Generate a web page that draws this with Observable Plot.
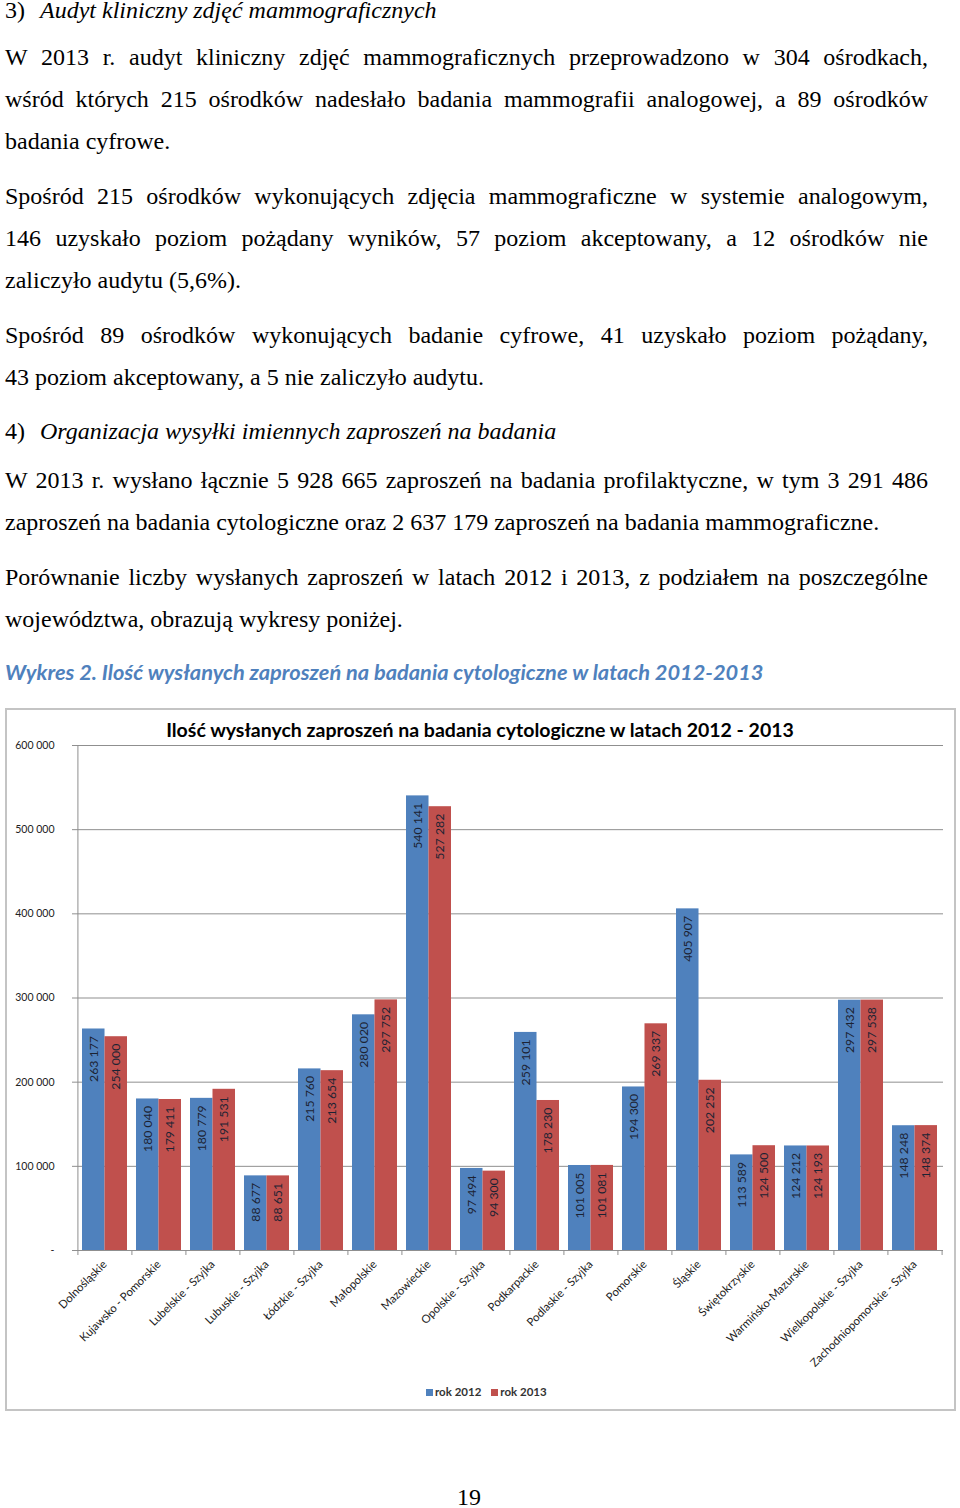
<!DOCTYPE html>
<html>
<head>
<meta charset="utf-8">
<script src="https://cdn.jsdelivr.net/npm/d3@7"></script>
<script src="https://cdn.jsdelivr.net/npm/@observablehq/plot@0.6"></script>
<style>
  html, body { margin: 0; padding: 0; background: #fff; }
  body { width: 960px; height: 1508px; position: relative; overflow: hidden; }
  .t { position: absolute; left: 5px; width: 923px; font-family: "Liberation Serif", "Times New Roman", serif;
       font-size: 24px; line-height: 30px; color: #000; }
  .j { text-align: justify; text-align-last: justify; }
  .i { font-style: italic; }
  #caption { position: absolute; left: 5px; top: 657px; font-family: Lato, sans-serif; font-weight: bold;
             font-style: italic; font-size: 21.8px; line-height: 30px; color: #4f81bd; white-space: nowrap; }
  #box { position: absolute; left: 5px; top: 708px; width: 951px; height: 703px; box-sizing: border-box;
         border: 2px solid #c4c4c4; }
  #title { position: absolute; left: 0; top: 718px; width: 960px; text-align: center; font-family: Lato, sans-serif;
           font-weight: bold; font-size: 19.5px; line-height: 24px; color: #000; white-space: nowrap; }
  #chart { position: absolute; left: 0; top: 708px; }
  #legend { position: absolute; left: 426px; top: 1385px; font-family: Lato, sans-serif;
            font-weight: bold; font-size: 11.5px; line-height: 14px; color: #333; white-space: nowrap; }
  #legend .sw { display: inline-block; width: 7px; height: 7px; margin-right: 2px; vertical-align: 0px; }
  #legend .item { margin-right: 10px; }
  #page { position: absolute; left: 457px; top: 1482px; font-family: "Liberation Serif", serif; font-size: 24px; line-height: 30px; }
</style>
</head>
<body>
<div class="t" style="top:-5px"><span>3)</span><span class="i" style="position:absolute;left:35px">Audyt kliniczny zdjęć mammograficznych</span></div>
<div class="t j" style="top:42px">W 2013 r. audyt kliniczny zdjęć mammograficznych przeprowadzono w 304 ośrodkach,</div>
<div class="t j" style="top:84px">wśród których 215 ośrodków nadesłało badania mammografii analogowej, a 89 ośrodków</div>
<div class="t" style="top:126px">badania cyfrowe.</div>

<div class="t j" style="top:181px">Spośród 215 ośrodków wykonujących zdjęcia mammograficzne w systemie analogowym,</div>
<div class="t j" style="top:223px">146 uzyskało poziom pożądany wyników, 57 poziom akceptowany, a 12 ośrodków nie</div>
<div class="t" style="top:265px">zaliczyło audytu (5,6%).</div>

<div class="t j" style="top:320px">Spośród 89 ośrodków wykonujących badanie cyfrowe, 41 uzyskało poziom pożądany,</div>
<div class="t" style="top:362px">43 poziom akceptowany, a 5 nie zaliczyło audytu.</div>

<div class="t" style="top:416px"><span>4)</span><span class="i" style="position:absolute;left:35px">Organizacja wysyłki imiennych zaproszeń na badania</span></div>

<div class="t j" style="top:465px">W 2013 r. wysłano łącznie 5 928 665 zaproszeń na badania profilaktyczne, w tym 3 291 486</div>
<div class="t" style="top:507px">zaproszeń na badania cytologiczne oraz 2 637 179 zaproszeń na badania mammograficzne.</div>

<div class="t j" style="top:562px">Porównanie liczby wysłanych zaproszeń w latach 2012 i 2013, z podziałem na poszczególne</div>
<div class="t" style="top:604px">województwa, obrazują wykresy poniżej.</div>

<div id="caption">Wykres 2. Ilość wysłanych zaproszeń na badania cytologiczne w latach 2012-2013</div>

<div id="box"></div>
<div id="chart"></div>
<div id="title">Ilość wysłanych zaproszeń na badania cytologiczne w latach 2012 - 2013</div>
<div id="legend"></div>
<div id="page">19</div>

<script>
// ---- data ----
const regions = [
  "Dolnośląskie", "Kujawsko - Pomorskie", "Lubelskie - Szyjka", "Lubuskie - Szyjka",
  "Łódzkie - Szyjka", "Małopolskie", "Mazowieckie", "Opolskie - Szyjka",
  "Podkarpackie", "Podlaskie - Szyjka", "Pomorskie", "Śląskie",
  "Świętokrzyskie", "Warmińsko-Mazurskie", "Wielkopolskie - Szyjka", "Zachodniopomorskie - Szyjka"
];
const values2012 = [263177, 180040, 180779, 88677, 215760, 280020, 540141, 97494,
                    259101, 101005, 194300, 405907, 113589, 124212, 297432, 148248];
const values2013 = [254000, 179411, 191531, 88651, 213654, 297752, 527282, 94300,
                    178230, 101081, 269337, 202252, 124500, 124193, 297538, 148374];
const seriesNames = ["rok 2012", "rok 2013"];
const yTicks = [0, 100000, 200000, 300000, 400000, 500000, 600000];

// ---- styles ----
const colors = ["#4f81bd", "#c0504d"];
const gridColor = "#8f8f8f";
const W = 960, H = 703;
const mL = 76, mR = 17, mT = 37, mB = 161;
const padIn = 0.17;
const step = (W - mL - mR) / regions.length;
const bw = step * (1 - padIn);

const locale = d3.formatLocale({decimal: ",", thousands: " ", grouping: [3], currency: ["", ""]});
const fmt = locale.format(",d");

const data = regions.map((r, i) => ({region: r, v2012: values2012[i], v2013: values2013[i]}));

const chart = Plot.plot({
  width: W, height: H,
  marginLeft: mL, marginRight: mR, marginTop: mT, marginBottom: mB,
  style: {fontFamily: "Lato, sans-serif", background: "transparent", overflow: "visible"},
  x: {domain: regions, paddingInner: padIn, paddingOuter: padIn / 2, label: null},
  y: {domain: [0, 600000], label: null},
  marks: [
    Plot.ruleY(yTicks, {stroke: gridColor, strokeWidth: 1}),
    Plot.ruleX([regions[0]], {y1: 0, y2: 600000, dx: -step / 2, stroke: gridColor}),
    Plot.ruleX(regions, {x: d => d, y1: 0, y2: 0, insetBottom: -5, dx: -step / 2, stroke: gridColor}),
    Plot.ruleX([regions[regions.length - 1]], {x: d => d, y1: 0, y2: 0, insetBottom: -5, dx: step / 2, stroke: gridColor}),
    Plot.barY(data, {x: "region", y: "v2012", fill: colors[0], insetRight: bw / 2}),
    Plot.barY(data, {x: "region", y: "v2013", fill: colors[1], insetLeft: bw / 2}),
    Plot.text(data, {x: "region", y: "v2012", text: d => fmt(d.v2012), rotate: -90, textAnchor: "end",
      dx: -bw / 4, dy: 7, fontSize: 12.3, fill: "#1c2333"}),
    Plot.text(data, {x: "region", y: "v2013", text: d => fmt(d.v2013), rotate: -90, textAnchor: "end",
      dx: bw / 4, dy: 7, fontSize: 12.3, fill: "#1c2333"}),
    Plot.axisY({ticks: yTicks, tickSize: 4, tickFormat: () => "", color: gridColor, label: null}),
    Plot.axisY({ticks: yTicks, tickSize: 0, tickPadding: 22, tickFormat: d => d === 0 ? "-" : fmt(d),
      fontSize: 10.5, color: "#222", label: null}),
    Plot.axisX({tickSize: 0, tickPadding: 12, tickRotate: -45, fontSize: 11.3, color: "#222", label: null})
  ]
});
document.getElementById("chart").appendChild(chart);

const legend = document.getElementById("legend");
seriesNames.forEach((name, i) => {
  const item = document.createElement("span");
  item.className = "item";
  const sw = document.createElement("span");
  sw.className = "sw";
  sw.style.background = colors[i];
  item.appendChild(sw);
  item.appendChild(document.createTextNode(name));
  legend.appendChild(item);
});
</script>
</body>
</html>
